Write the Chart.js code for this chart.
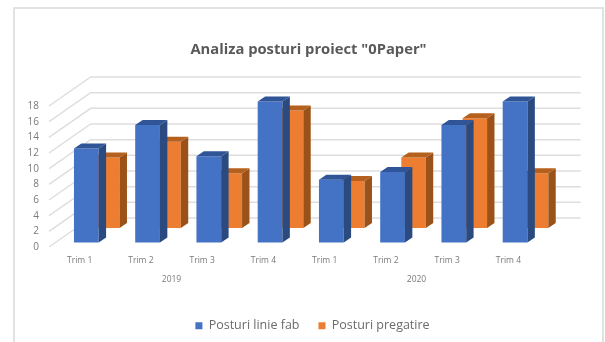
<!DOCTYPE html>
<html>
<head>
<meta charset="utf-8">
<style>
  html, body { margin: 0; background: #fff; }
  #wrap { width: 605px; height: 342px; position: relative; }
  /* the reference is a soft, rescaled screenshot */
  #myChart { filter: blur(0.45px); }
</style>
</head>
<body>
<div id="wrap"><canvas id="myChart" width="605" height="342"></canvas></div>
<script src="https://cdn.jsdelivr.net/npm/chart.js@4/dist/chart.umd.min.js"></script>
<script>
  const labels = ['Trim 1', 'Trim 2', 'Trim 3', 'Trim 4', 'Trim 1', 'Trim 2', 'Trim 3', 'Trim 4'];
  const years = ['2019', '2020'];
  const posturiLinie = [12, 15, 11, 18, 8, 9, 15, 18];
  const posturiPregatire = [9, 11, 7, 15, 6, 9, 14, 7];

  const fontName = '"Open Sans", sans-serif';
  const textColor = '#7a7a7a';

  // Chart.js has no 3D bars, so each dataset is shifted back and gets side and top faces
  const wallDepth = { x: 41.7, y: -29 };
  const faces = [
    { shiftX: 6.7, shiftY: -4.5, side: '#2a4a80', top: '#2f5597' },
    { shiftX: 27.7, shiftY: -19, side: '#9a5218', top: '#b5601c' },
  ];
  const barDepth = { x: 7.4, y: -5 };

  const depth3d = {
    id: 'depth3d',
    afterUpdate(chart) {
      // legend sits a little right of where the layout puts it
      chart.legend.left += 4;
      chart.legend.right += 4;
    },
    beforeDatasetsDraw(chart) {
      const ctx = chart.ctx;
      const area = chart.chartArea;
      ctx.save();
      ctx.strokeStyle = '#dedede';
      ctx.lineWidth = 1.5;
      chart.scales.y.ticks.forEach(function (tick) {
        const y = chart.scales.y.getPixelForValue(tick.value);
        ctx.beginPath();
        ctx.moveTo(area.left, y);
        ctx.lineTo(area.left + wallDepth.x, y + wallDepth.y);
        ctx.lineTo(area.right + wallDepth.x, y + wallDepth.y);
        ctx.stroke();
      });
      ctx.restore();
    },
    beforeDatasetDraw(chart, args) {
      const f = faces[args.index];
      chart.ctx.save();
      chart.ctx.translate(f.shiftX, f.shiftY);
    },
    afterDatasetDraw(chart, args) {
      const ctx = chart.ctx;
      const f = faces[args.index];
      args.meta.data.forEach(function (bar) {
        const right = bar.x + bar.width / 2;
        const left = bar.x - bar.width / 2;
        ctx.fillStyle = f.side;
        ctx.beginPath();
        ctx.moveTo(right, bar.y);
        ctx.lineTo(right + barDepth.x, bar.y + barDepth.y);
        ctx.lineTo(right + barDepth.x, bar.base + barDepth.y);
        ctx.lineTo(right, bar.base);
        ctx.closePath();
        ctx.fill();
        ctx.fillStyle = f.top;
        ctx.beginPath();
        ctx.moveTo(left, bar.y);
        ctx.lineTo(left + barDepth.x, bar.y + barDepth.y);
        ctx.lineTo(right + barDepth.x, bar.y + barDepth.y);
        ctx.lineTo(right, bar.y);
        ctx.closePath();
        ctx.fill();
      });
      ctx.restore();
    },
    // light frame of the pasted chart, open at the bottom
    beforeDraw(chart) {
      const ctx = chart.ctx;
      ctx.save();
      ctx.strokeStyle = '#e2e2e2';
      ctx.lineWidth = 2;
      ctx.beginPath();
      ctx.moveTo(14, chart.height);
      ctx.lineTo(14, 8);
      ctx.lineTo(603, 8);
      ctx.lineTo(603, chart.height);
      ctx.stroke();
      ctx.restore();
    },
  };

  const data = {
    labels: labels,
    datasets: [{
      label: 'Posturi linie fab',
      backgroundColor: '#4472c4',
      data: posturiLinie,
      grouped: false,
      clip: false,
      barPercentage: 0.404,
      categoryPercentage: 1,
    }, {
      label: 'Posturi pregatire',
      backgroundColor: '#ed7d31',
      data: posturiPregatire,
      grouped: false,
      clip: false,
      barPercentage: 0.4,
      categoryPercentage: 1,
    }],
  };

  const config = {
    type: 'bar',
    data,
    plugins: [depth3d],
    options: {
      responsive: false,
      animation: false,
      layout: { padding: { left: 12, right: 0, top: 0, bottom: 0 } },
      plugins: {
        tooltip: { enabled: false },
        title: {
          display: true,
          text: 'Analiza posturi proiect "0Paper"',
          color: '#595959',
          font: { family: fontName, size: 14.75, weight: 'bold' },
          padding: { top: 40.5, bottom: 47.8 },
          align: 'center',
        },
        legend: {
          position: 'bottom',
          labels: {
            boxWidth: 7,
            boxHeight: 7,
            color: '#6b6b6b',
            font: { family: fontName, size: 12.5 },
            padding: 19,
          },
        },
      },
      scales: {
        x: {
          grid: { display: false, drawTicks: false },
          border: { display: false },
          afterFit(scale) { scale.height = 18; },
          ticks: { color: textColor, font: { family: fontName, size: 8.5 }, padding: 8, maxRotation: 0, autoSkip: false },
        },
        x2: {
          type: 'category',
          labels: years,
          position: 'bottom',
          grid: { display: false, drawTicks: false },
          border: { display: false },
          afterFit(scale) { scale.height = 35.5; },
          ticks: { color: textColor, font: { family: fontName, size: 8.5 }, padding: 9, maxRotation: 0 },
        },
        y: {
          min: 0,
          max: 18,
          grid: { display: false, drawTicks: false },
          border: { display: false },
          afterFit(scale) { scale.width = 37; },
          ticks: { stepSize: 2, color: textColor, font: { family: fontName, size: 10 }, padding: 10 },
        },
        // empty axis, only reserves the room for the back wall on the right
        yRight: {
          position: 'right',
          grid: { display: false, drawTicks: false },
          border: { display: false },
          ticks: { display: false },
          afterFit(scale) { scale.width = 66; },
        },
      },
    },
  };

  var myChart = new Chart(document.getElementById('myChart'), config);
</script>
</body>
</html>
